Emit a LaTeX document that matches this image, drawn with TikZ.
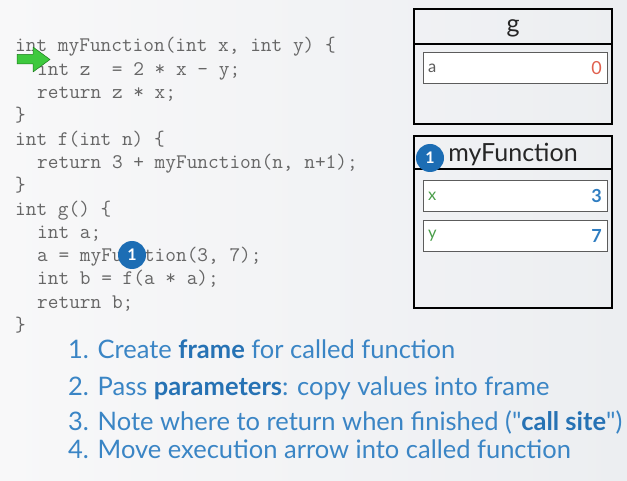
\documentclass[tikz,border=0pt]{standalone}
\usepackage{fontspec}
\setmainfont{Lato}[Ligatures=TeXOff]
\definecolor{bgleft}{HTML}{F8F8F9}
\definecolor{bgright}{HTML}{ECEEF1}
\definecolor{codegray}{HTML}{666666}
\definecolor{slotgray}{HTML}{5C5C5C}
\definecolor{badgeblue}{HTML}{1C6DB4}
\definecolor{listblue}{HTML}{3A85C5}
\definecolor{boldblue}{HTML}{2672B4}
\definecolor{valred}{HTML}{E0604E}
\definecolor{valgreen}{HTML}{4A9E4A}
\definecolor{valblue}{HTML}{2F7DC1}
\definecolor{arrowgreen}{HTML}{3EC93E}
\definecolor{arrowdark}{HTML}{1F7A1F}
\begin{document}
\begin{tikzpicture}[x=1pt,y=-1pt,
  code/.style={anchor=base west, inner sep=0pt, text=codegray,
    font=\fontsize{20.75}{22}\selectfont\ttfamily},
  frame/.style={draw=black, line width=1.4pt},
  slot/.style={draw=slotgray, line width=0.9pt, fill=white},
  title/.style={inner sep=0pt, font=\fontsize{25}{28}\selectfont, text=black!85},
  varname/.style={anchor=west, inner sep=0pt, font=\fontsize{16.5}{18}\selectfont},
  varval/.style={anchor=east, inner sep=0pt, font=\fontsize{18}{20}\selectfont},
  badge/.style={circle, fill=badgeblue, minimum size=28pt, inner sep=0pt,
    text=white, font=\fontsize{16}{18}\selectfont\bfseries},
  item/.style={anchor=base west, inner sep=0pt, text=listblue,
    font=\fontsize{25.5}{28}\selectfont}]
\useasboundingbox (0,0) rectangle (627,481);
\shade[left color=bgleft, right color=bgright] (0,0) rectangle (627,481);

% source code
\node[code] (c1)  at (15,52)    {int myFunction(int x, int y) \{};
\node[code] (c2)  at (37,75.3)  {int z~~= 2 * x - y;};
\node[code] (c3)  at (37,98.6)  {return z * x;};
\node[code] (c4)  at (15,121.9) {\}};
\node[code] (c5)  at (15,145.2) {int f(int n) \{};
\node[code] (c6)  at (37,168.5) {return 3 + myFunction(n, n+1);};
\node[code] (c7)  at (15,191.8) {\}};
\node[code] (c8)  at (15,215.1) {int g() \{};
\node[code] (c9)  at (37,238.4) {int a;};
\node[code] (c10) at (37,261.7) {a = myFunction(3, 7);};
\node[code] (c11) at (37,285)   {int b = f(a * a);};
\node[code] (c12) at (37,308.3) {return b;};
\node[code] (c13) at (15,331.6) {\}};

% execution arrow
\draw[fill=arrowgreen, draw=arrowdark, line width=0.5pt, line join=round]
  (17,54.5) -- (33,54.5) -- (33,47) -- (50,59.5) -- (33,72) -- (33,64) -- (17,64) -- cycle;

% call-site marker
\node[badge] (b1) at (132,255) {1};

% frame of g
\draw[frame] (414,9) rectangle (612,124);
\draw[frame] (414,44) -- (612,44);
\node[title] (gt) at (513,28) {g};
\draw[slot] (423,52) rectangle (607,83);
\node[varname, text=slotgray] (ga) at (428,68) {a};
\node[varval, text=valred] (gv) at (602,68) {0};

% frame of myFunction
\draw[frame] (414,136) rectangle (612,308);
\draw[frame] (414,169) -- (612,169);
\node[title] (mt) at (513,154) {myFunction};
\node[badge] (b2) at (430,158) {1};
\draw[slot] (423,180) rectangle (607,211);
\node[varname, text=valgreen] (mx) at (428,196) {x};
\node[varval, text=valblue, font=\fontsize{18}{20}\selectfont\bfseries] (mxv) at (602,196) {3};
\draw[slot] (423,220) rectangle (607,251);
\node[varname, text=valgreen] (my) at (428,236) {y};
\node[varval, text=valblue, font=\fontsize{18}{20}\selectfont\bfseries] (myv) at (602,236) {7};

% steps
\node[item] (s1) at (68,358) {1. Create \textcolor{boldblue}{\textbf{frame}} for called function};
\node[item] (s2) at (68,395) {2. Pass \textcolor{boldblue}{\textbf{parameters}}: copy values into frame};
\node[item] (s3) at (68,430) {3. Note where to return when finished ("\textcolor{boldblue}{\textbf{call site}}")};
\node[item] (s4) at (68,458) {4. Move execution arrow into called function};
\end{tikzpicture}
\end{document}
